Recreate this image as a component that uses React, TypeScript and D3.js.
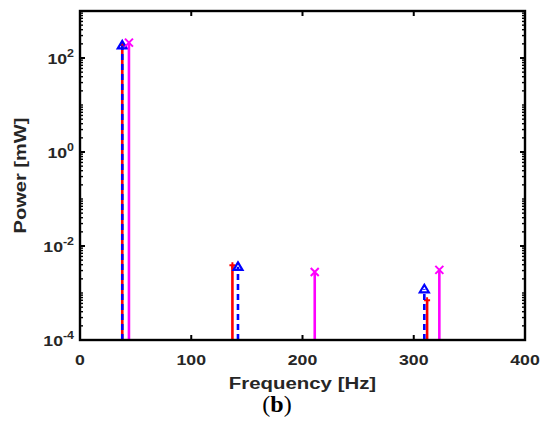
import React from 'react';
import * as d3 from 'd3';

// frequency [Hz] / power [mW]
const redFreq = [38, 137, 312];
const redPower = [190, 0.0039, 0.0007];
const blueFreq = [38, 142, 309.5];
const bluePower = [185, 0.0036, 0.0012];
const magFreq = [44, 211, 323];
const magPower = [212, 0.0028, 0.0031];

const xTicks = [0, 100, 200, 300, 400];
const yTickExp = [-4, -2, 0, 2];

const W = 550;
const H = 441;
const m = { left: 80, right: 25, top: 11, bottom: 101 };

export default function App() {
  const x = d3.scaleLinear().domain([0, 400]).range([m.left, W - m.right]);
  const y = d3.scaleLog().domain([1e-4, 1e3]).range([H - m.bottom, m.top]);
  const x0 = x.range()[0], x1 = x.range()[1];
  const yb = y.range()[0], yt = y.range()[1];

  const minor: number[] = [];
  for (let e = -4; e < 3; e++) {
    for (let k = 1; k < 10; k++) {
      const v = k * Math.pow(10, e);
      if (k === 1 && yTickExp.includes(e)) continue;
      minor.push(v);
    }
  }

  const txt = '#262626';
  const font = "'Liberation Sans', Arial, sans-serif";

  const stems = (fs: number[], ps: number[], color: string, dash?: string) =>
    fs.map((f, i) => (
      <line key={color + i} x1={x(f)} x2={x(f)} y1={yb} y2={y(ps[i])}
        stroke={color} strokeWidth={2.6} strokeDasharray={dash} />
    ));

  return (
    <svg width={W} height={H} style={{ position: 'absolute', left: 0, top: 0 }}>
      <rect width={W} height={H} fill="#fff" />
      {stems(redFreq, redPower, '#ff0000')}
      {redFreq.map((f, i) => (
        <path key={'rp' + i} d={`M${x(f) - 3},${y(redPower[i])}h6M${x(f)},${y(redPower[i]) - 3}v6`}
          stroke="#ff0000" strokeWidth={2} />
      ))}
      {stems(blueFreq, bluePower, '#0000ff', '6,4')}
      {blueFreq.map((f, i) => {
        const cx = x(f), cy = y(bluePower[i]);
        return (
          <path key={'bt' + i} d={`M${cx},${cy - 4.5}L${cx + 4.5},${cy + 3}L${cx - 4.5},${cy + 3}Z`}
            fill="none" stroke="#0000ff" strokeWidth={2.2} />
        );
      })}
      {stems(magFreq, magPower, '#ff00ff')}
      {magFreq.map((f, i) => {
        const cx = x(f), cy = y(magPower[i]);
        return (
          <path key={'mx' + i} d={`M${cx - 4},${cy - 4}L${cx + 4},${cy + 4}M${cx - 4},${cy + 4}L${cx + 4},${cy - 4}`}
            stroke="#ff00ff" strokeWidth={2} />
        );
      })}

      {/* ticks */}
      {xTicks.map((t) => (
        <g key={'xt' + t}>
          <line x1={x(t)} x2={x(t)} y1={yb} y2={yb - 5} stroke="#000" strokeWidth={2} />
          <line x1={x(t)} x2={x(t)} y1={yt} y2={yt + 5} stroke="#000" strokeWidth={2} />
        </g>
      ))}
      {yTickExp.map((e) => (
        <g key={'yt' + e}>
          <line x1={x0} x2={x0 + 5} y1={y(Math.pow(10, e))} y2={y(Math.pow(10, e))} stroke="#000" strokeWidth={2} />
          <line x1={x1} x2={x1 - 5} y1={y(Math.pow(10, e))} y2={y(Math.pow(10, e))} stroke="#000" strokeWidth={2} />
        </g>
      ))}
      {minor.map((v, i) => (
        <g key={'mn' + i}>
          <line x1={x0} x2={x0 + 3} y1={y(v)} y2={y(v)} stroke="#000" strokeWidth={1.4} />
          <line x1={x1} x2={x1 - 3} y1={y(v)} y2={y(v)} stroke="#000" strokeWidth={1.4} />
        </g>
      ))}
      <rect x={x0} y={yt} width={x1 - x0} height={yb - yt} fill="none" stroke="#000" strokeWidth={2.4} />

      {/* tick labels */}
      {xTicks.map((t) => (
        <text key={'xl' + t} transform={`translate(${x(t)},${yb + 25}) scale(1.18,1)`}
          textAnchor="middle" fontFamily={font} fontWeight="bold" fontSize={15} fill={txt}>
          {t}
        </text>
      ))}
      {yTickExp.map((e) => (
        <text key={'yl' + e} transform={`translate(${x0 - 6},${y(Math.pow(10, e)) + 6}) scale(1.18,1)`}
          textAnchor="end" fontFamily={font} fontWeight="bold" fontSize={15} fill={txt}>
          <tspan>10</tspan>
          <tspan fontSize={10.5} dy={-7}>{e}</tspan>
        </text>
      ))}

      <text transform={`translate(${(x0 + x1) / 2},${yb + 49}) scale(1.2,1)`} textAnchor="middle"
        fontFamily={font} fontWeight="bold" fontSize={17} fill={txt}>
        Frequency [Hz]
      </text>
      <text transform={`translate(26,${(yt + yb) / 2}) rotate(-90) scale(1.18,1)`} textAnchor="middle"
        fontFamily={font} fontWeight="bold" fontSize={17} fill={txt}>
        Power [mW]
      </text>
      <text x={277} y={412} textAnchor="middle" fontFamily="'Liberation Serif', serif" fontSize={24} fill="#000">
        (<tspan fontWeight="bold">b</tspan>)
      </text>
    </svg>
  );
}
